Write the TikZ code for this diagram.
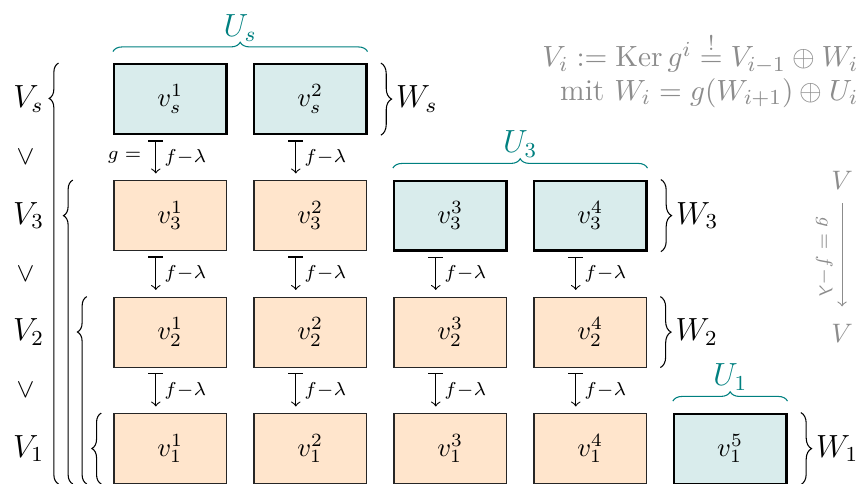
\documentclass[tikz,border=0pt]{standalone}
\usepackage{amsmath, amssymb}
\usepackage{tikz}
\usetikzlibrary{decorations.pathreplacing}

\begin{document}
\begin{tikzpicture}[
  ubox/.style={draw=black, thick, fill=teal!15, minimum width=1.48cm, minimum height=0.92cm},
  imgbox/.style={draw=black!85, fill=orange!20, minimum width=1.48cm, minimum height=0.92cm},
  gmap/.style={|->, shorten <=2pt, shorten >=2.5pt},
  maplabel/.style={font=\scriptsize, inner sep=3pt},
  lbrace/.style={decorate, decoration={brace, amplitude=3.5pt, aspect=#1}},
  wbrace/.style={decorate, decoration={brace, amplitude=4pt, raise=5pt}},
  ubrace/.style={decorate, decoration={brace, amplitude=3.5pt, raise=4.3pt}, teal},
  side/.style={font=\large, inner sep=1pt}
]
  \useasboundingbox (0,0) rectangle (11.303,6.368);

  % Basis vectors, one row per V_i
  \node[ubox] (vs1) at (2.24,5.064) {$v_s^1$};
  \node[ubox] (vs2) at (4.082,5.064) {$v_s^2$};

  \node[imgbox] (v31) at (2.24,3.531) {$v_3^1$};
  \node[imgbox] (v32) at (4.082,3.531) {$v_3^2$};
  \node[ubox] (v33) at (5.924,3.531) {$v_3^3$};
  \node[ubox] (v34) at (7.766,3.531) {$v_3^4$};

  \node[imgbox] (v21) at (2.24,1.998) {$v_2^1$};
  \node[imgbox] (v22) at (4.082,1.998) {$v_2^2$};
  \node[imgbox] (v23) at (5.924,1.998) {$v_2^3$};
  \node[imgbox] (v24) at (7.766,1.998) {$v_2^4$};

  \node[imgbox] (v11) at (2.24,0.465) {$v_1^1$};
  \node[imgbox] (v12) at (4.082,0.465) {$v_1^2$};
  \node[imgbox] (v13) at (5.924,0.465) {$v_1^3$};
  \node[imgbox] (v14) at (7.766,0.465) {$v_1^4$};
  \node[ubox] (v15) at (9.608,0.465) {$v_1^5$};

  % Maps g = f - lambda
  \draw[gmap] ([xshift=-0.19cm]vs1.south) -- ([xshift=-0.19cm]v31.north)
    node[midway, right, maplabel] (fs1) {$f{-}\lambda$}
    node[midway, left, maplabel] (gs1) {$g={}$};
  \draw[gmap] ([xshift=-0.19cm]vs2.south) -- ([xshift=-0.19cm]v32.north) node[midway, right, maplabel] (fs2) {$f{-}\lambda$};

  \draw[gmap] ([xshift=-0.19cm]v31.south) -- ([xshift=-0.19cm]v21.north) node[midway, right, maplabel] (f31) {$f{-}\lambda$};
  \draw[gmap] ([xshift=-0.19cm]v32.south) -- ([xshift=-0.19cm]v22.north) node[midway, right, maplabel] (f32) {$f{-}\lambda$};
  \draw[gmap] ([xshift=-0.19cm]v33.south) -- ([xshift=-0.19cm]v23.north) node[midway, right, maplabel] (f33) {$f{-}\lambda$};
  \draw[gmap] ([xshift=-0.19cm]v34.south) -- ([xshift=-0.19cm]v24.north) node[midway, right, maplabel] (f34) {$f{-}\lambda$};

  \draw[gmap] ([xshift=-0.19cm]v21.south) -- ([xshift=-0.19cm]v11.north) node[midway, right, maplabel] (f21) {$f{-}\lambda$};
  \draw[gmap] ([xshift=-0.19cm]v22.south) -- ([xshift=-0.19cm]v12.north) node[midway, right, maplabel] (f22) {$f{-}\lambda$};
  \draw[gmap] ([xshift=-0.19cm]v23.south) -- ([xshift=-0.19cm]v13.north) node[midway, right, maplabel] (f23) {$f{-}\lambda$};
  \draw[gmap] ([xshift=-0.19cm]v24.south) -- ([xshift=-0.19cm]v14.north) node[midway, right, maplabel] (f24) {$f{-}\lambda$};

  % Filtration V_1 < V_2 < V_3 < V_s
  \node[side] (Vs) at (0.375,5.064) {$V_s$};
  \node[side] (V3) at (0.375,3.531) {$V_3$};
  \node[side] (V2) at (0.375,1.998) {$V_2$};
  \node[side] (V1) at (0.375,0.465) {$V_1$};
  \node (sub3) at (0.335,4.298) {$\vee$};
  \node (sub2) at (0.335,2.765) {$\vee$};
  \node (sub1) at (0.335,1.232) {$\vee$};

  \draw[lbrace=0.916] (0.770,0) -- (0.770,0 |- vs1.north);
  \draw[lbrace=0.883] (0.958,0) -- (0.958,0 |- v31.north);
  \draw[lbrace=0.811] (1.142,0) -- (1.142,0 |- v21.north);
  \draw[lbrace=0.5] (1.332,0) -- (1.332,0 |- v11.north);

  % Complements W_i
  \draw[wbrace] (vs2.north east) -- (vs2.south east) node[midway, right=9.5pt, side] (Ws) {$W_s$};
  \draw[wbrace] (v34.north east) -- (v34.south east) node[midway, right=9.5pt, side] (W3) {$W_3$};
  \draw[wbrace] (v24.north east) -- (v24.south east) node[midway, right=9.5pt, side] (W2) {$W_2$};
  \draw[wbrace] (v15.north east) -- (v15.south east) node[midway, right=9.5pt, side] (W1) {$W_1$};

  % New parts U_i
  \draw[ubrace] (vs1.north west) -- (vs2.north east) node[midway, above=7pt, side, teal] (Us) {$U_s$};
  \draw[ubrace] (v33.north west) -- (v34.north east) node[midway, above=7pt, side, teal] (U3) {$U_3$};
  \draw[ubrace] (v15.north west) -- (v15.north east) node[midway, above=7pt, side, teal] (U1) {$U_1$};

  % Definition
  \node[anchor=north east, inner sep=0pt, align=right, font=\fontsize{11.3pt}{12.4pt}\selectfont, text=black!45] (defn) at (11.30,5.95)
    {$V_i := \operatorname{Ker} g^i \stackrel{!}{=} V_{i-1}\oplus W_i$\\ mit $W_i = g(W_{i+1})\oplus U_i$};

  % The map on all of V
  \node[text=black!45] (Vtop) at (11.08,3.99) {$V$};
  \node[text=black!45] (Vbot) at (11.08,1.987) {$V$};
  \draw[->, black!45, shorten <=1.5pt, shorten >=3pt] (Vtop) -- (Vbot)
    node[midway, anchor=north, rotate=-90, font=\scriptsize] (gmaplab) {$g = f{-}\lambda$};
\end{tikzpicture}
\end{document}
